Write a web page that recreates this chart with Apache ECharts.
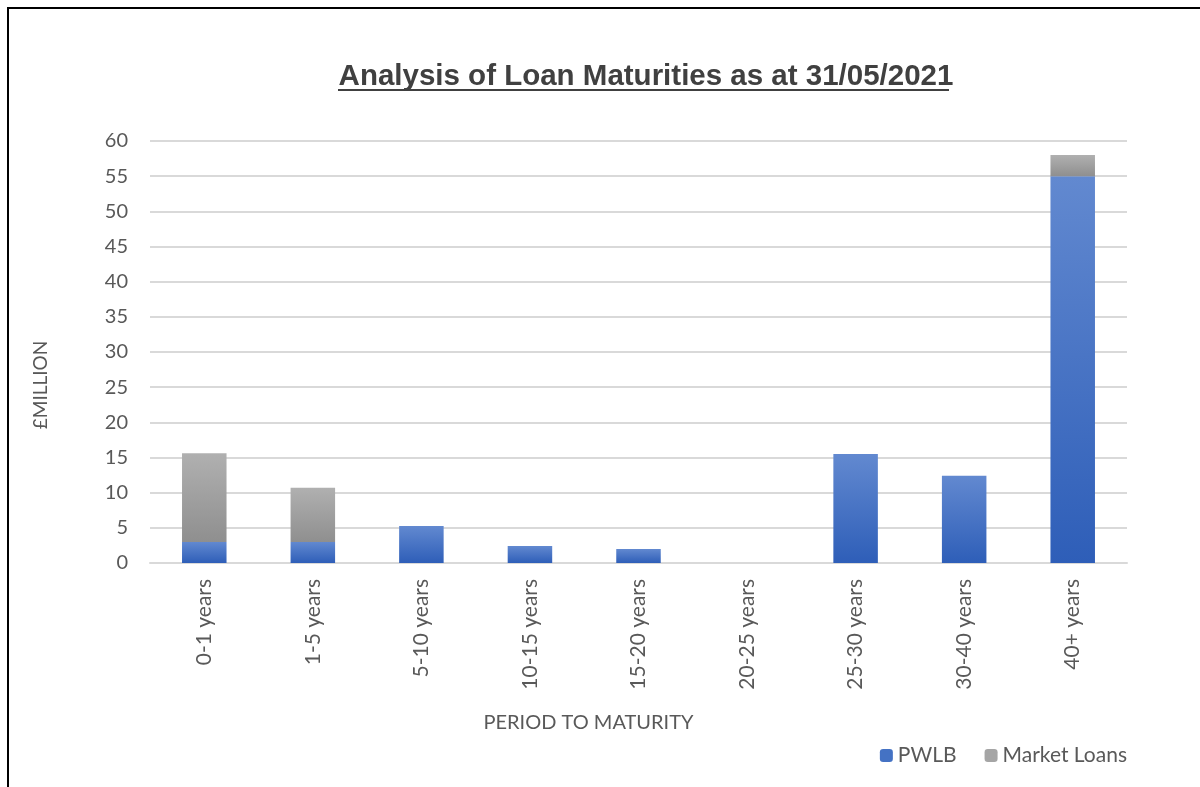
<!DOCTYPE html>
<html>
<head>
<meta charset="utf-8">
<script src="https://cdn.jsdelivr.net/npm/echarts@6/dist/echarts.min.js"></script>
<style>
  html, body { margin: 0; padding: 0; background: #fff; }
  #chart { width: 1200px; height: 787px; }
</style>
</head>
<body>
<div id="chart"></div>
<script>
const categories = ['0-1 years', '1-5 years', '5-10 years', '10-15 years', '15-20 years', '20-25 years', '25-30 years', '30-40 years', '40+ years']
const pwlb = [3.0, 3.0, 5.25, 2.4, 2.0, 0, 15.5, 12.4, 55.0]
const marketLoans = [12.6, 7.7, 0, 0, 0, 0, 0, 0, 3.0]
const yTicks = { min: 0, max: 60, interval: 5 }

const font = 'Lato, "Open Sans", sans-serif'
const grad = (top, bottom) => new echarts.graphic.LinearGradient(0, 0, 0, 1, [
  { offset: 0, color: top },
  { offset: 1, color: bottom }
])

const chart = echarts.init(document.getElementById('chart'))
chart.setOption({
  backgroundColor: '#fff',
  animation: false,
  title: {
    text: 'Analysis of Loan Maturities as at 31/05/2021',
    left: 641,
    textAlign: 'center',
    top: 57,
    textStyle: { fontFamily: '"Liberation Sans", Arial, sans-serif', fontSize: 29.5, fontWeight: 'bold', color: '#404040' }
  },
  graphic: [
    { type: 'line', shape: { x1: 338, y1: 90, x2: 949, y2: 90 }, style: { stroke: '#404040', lineWidth: 2 } },
    { type: 'polyline', shape: { points: [[8, 787], [8, 8], [1200, 8]] }, style: { stroke: '#000', lineWidth: 2, fill: null } }
  ],
  legend: {
    right: 68,
    top: 740,
    itemWidth: 13,
    itemHeight: 13,
    itemGap: 28,
    textStyle: { fontFamily: font, fontSize: 21, color: '#595959' },
    data: [
      { name: 'PWLB', itemStyle: { color: '#4472c4' } },
      { name: 'Market Loans', itemStyle: { color: '#a5a5a5' } }
    ]
  },
  grid: { left: 150, right: 73, top: 141, bottom: 224, containLabel: false },
  xAxis: {
    type: 'category',
    data: categories,
    name: 'PERIOD TO MATURITY',
    nameLocation: 'middle',
    nameGap: 150,
    nameTextStyle: { fontFamily: font, fontSize: 20, color: '#595959', padding: [0, 100, 0, 0] },
    axisLine: { lineStyle: { color: '#d9d9d9', width: 2 } },
    axisTick: { show: false },
    axisLabel: { rotate: 90, margin: 16, fontFamily: font, fontSize: 21, color: '#595959' }
  },
  yAxis: {
    type: 'value',
    min: yTicks.min,
    max: yTicks.max,
    interval: yTicks.interval,
    name: '£MILLION',
    nameLocation: 'middle',
    nameRotate: 90,
    nameGap: 100,
    nameTextStyle: { fontFamily: font, fontSize: 19, color: '#595959', padding: [0, 66, 0, 0] },
    axisLine: { show: false },
    axisTick: { show: false },
    axisLabel: { margin: 22, fontFamily: font, fontSize: 20, color: '#595959' },
    splitLine: { lineStyle: { color: '#d9d9d9', width: 2 } }
  },
  series: [
    {
      name: 'PWLB',
      type: 'bar',
      stack: 'total',
      barWidth: '41%',
      data: pwlb,
      itemStyle: { color: grad('#6289d0', '#2e5eb8') }
    },
    {
      name: 'Market Loans',
      type: 'bar',
      stack: 'total',
      barWidth: '41%',
      data: marketLoans,
      itemStyle: { color: grad('#b0b0b0', '#8f8f8f') }
    }
  ]
})
</script>
</body>
</html>
